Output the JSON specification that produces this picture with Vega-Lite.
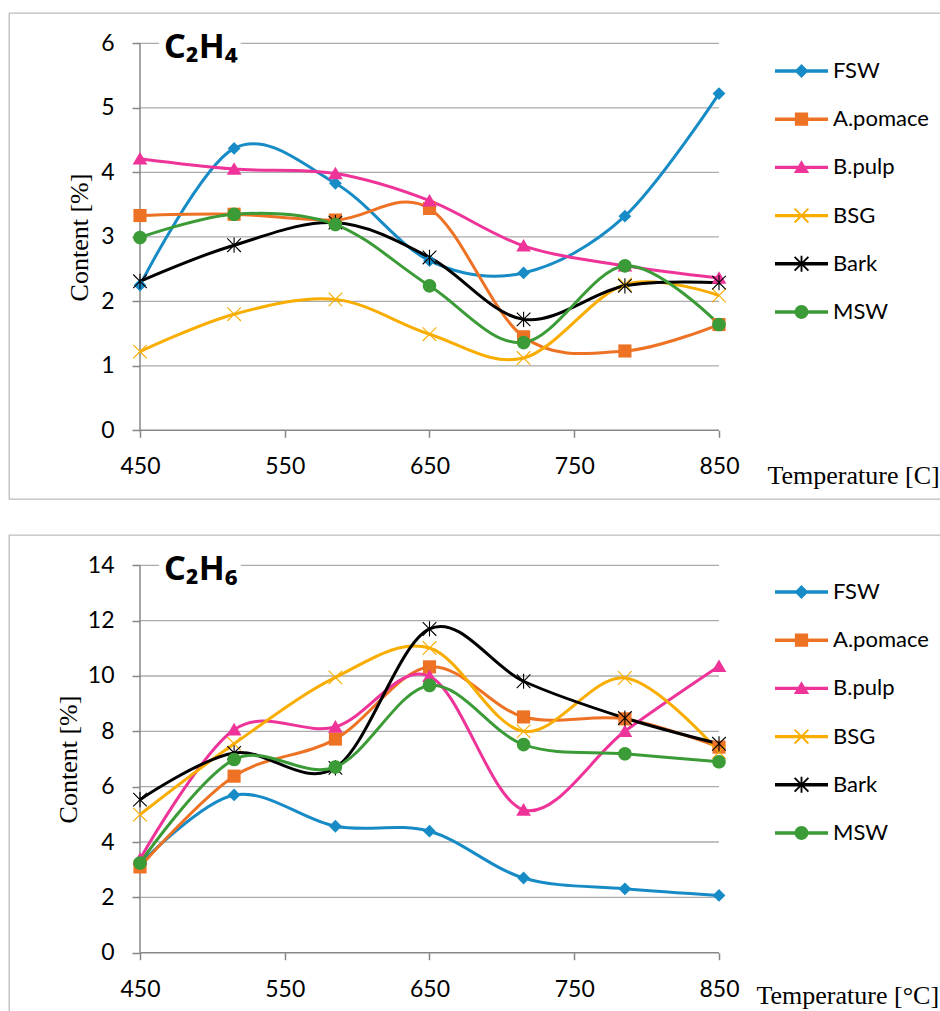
{
  "$schema": "https://vega.github.io/schema/vega-lite/v6.json",
  "padding": {"left": 8, "top": 12, "right": 0, "bottom": 0},
  "spacing": 34,
  "config": {"view": {"stroke": "#BDBDBD", "strokeWidth": 1.3}},
  "datasets": {
    "grid4": [{"g": 1}, {"g": 2}, {"g": 3}, {"g": 4}, {"g": 5}, {"g": 6}],
    "grid6": [{"g": 2}, {"g": 4}, {"g": 6}, {"g": 8}, {"g": 10}, {"g": 12}, {"g": 14}],
    "c2h4": [
      {"temp": 450, "material": "FSW", "content": 2.25}, {"temp": 515, "material": "FSW", "content": 4.37}, {"temp": 585, "material": "FSW", "content": 3.83}, {"temp": 650, "material": "FSW", "content": 2.63}, {"temp": 715, "material": "FSW", "content": 2.44}, {"temp": 785, "material": "FSW", "content": 3.32}, {"temp": 850, "material": "FSW", "content": 5.22},
      {"temp": 450, "material": "A.pomace", "content": 3.33}, {"temp": 515, "material": "A.pomace", "content": 3.35}, {"temp": 585, "material": "A.pomace", "content": 3.26}, {"temp": 650, "material": "A.pomace", "content": 3.44}, {"temp": 715, "material": "A.pomace", "content": 1.45}, {"temp": 785, "material": "A.pomace", "content": 1.23}, {"temp": 850, "material": "A.pomace", "content": 1.64},
      {"temp": 450, "material": "B.pulp", "content": 4.21}, {"temp": 515, "material": "B.pulp", "content": 4.05}, {"temp": 585, "material": "B.pulp", "content": 3.98}, {"temp": 650, "material": "B.pulp", "content": 3.56}, {"temp": 715, "material": "B.pulp", "content": 2.86}, {"temp": 785, "material": "B.pulp", "content": 2.55}, {"temp": 850, "material": "B.pulp", "content": 2.36},
      {"temp": 450, "material": "BSG", "content": 1.22}, {"temp": 515, "material": "BSG", "content": 1.8}, {"temp": 585, "material": "BSG", "content": 2.03}, {"temp": 650, "material": "BSG", "content": 1.49}, {"temp": 715, "material": "BSG", "content": 1.12}, {"temp": 785, "material": "BSG", "content": 2.26}, {"temp": 850, "material": "BSG", "content": 2.09},
      {"temp": 450, "material": "Bark", "content": 2.31}, {"temp": 515, "material": "Bark", "content": 2.87}, {"temp": 585, "material": "Bark", "content": 3.22}, {"temp": 650, "material": "Bark", "content": 2.68}, {"temp": 715, "material": "Bark", "content": 1.72}, {"temp": 785, "material": "Bark", "content": 2.24}, {"temp": 850, "material": "Bark", "content": 2.29},
      {"temp": 450, "material": "MSW", "content": 2.99}, {"temp": 515, "material": "MSW", "content": 3.35}, {"temp": 585, "material": "MSW", "content": 3.19}, {"temp": 650, "material": "MSW", "content": 2.24}, {"temp": 715, "material": "MSW", "content": 1.36}, {"temp": 785, "material": "MSW", "content": 2.55}, {"temp": 850, "material": "MSW", "content": 1.64}
    ],
    "c2h6": [
      {"temp": 450, "material": "FSW", "content": 3.2}, {"temp": 515, "material": "FSW", "content": 5.7}, {"temp": 585, "material": "FSW", "content": 4.57}, {"temp": 650, "material": "FSW", "content": 4.39}, {"temp": 715, "material": "FSW", "content": 2.7}, {"temp": 785, "material": "FSW", "content": 2.31}, {"temp": 850, "material": "FSW", "content": 2.07},
      {"temp": 450, "material": "A.pomace", "content": 3.1}, {"temp": 515, "material": "A.pomace", "content": 6.38}, {"temp": 585, "material": "A.pomace", "content": 7.72}, {"temp": 650, "material": "A.pomace", "content": 10.33}, {"temp": 715, "material": "A.pomace", "content": 8.52}, {"temp": 785, "material": "A.pomace", "content": 8.45}, {"temp": 850, "material": "A.pomace", "content": 7.43},
      {"temp": 450, "material": "B.pulp", "content": 3.38}, {"temp": 515, "material": "B.pulp", "content": 8.06}, {"temp": 585, "material": "B.pulp", "content": 8.16}, {"temp": 650, "material": "B.pulp", "content": 9.99}, {"temp": 715, "material": "B.pulp", "content": 5.16}, {"temp": 785, "material": "B.pulp", "content": 8.0}, {"temp": 850, "material": "B.pulp", "content": 10.35},
      {"temp": 450, "material": "BSG", "content": 4.99}, {"temp": 515, "material": "BSG", "content": 7.55}, {"temp": 585, "material": "BSG", "content": 9.95}, {"temp": 650, "material": "BSG", "content": 11.01}, {"temp": 715, "material": "BSG", "content": 8.0}, {"temp": 785, "material": "BSG", "content": 9.93}, {"temp": 850, "material": "BSG", "content": 7.25},
      {"temp": 450, "material": "Bark", "content": 5.53}, {"temp": 515, "material": "Bark", "content": 7.22}, {"temp": 585, "material": "Bark", "content": 6.68}, {"temp": 650, "material": "Bark", "content": 11.7}, {"temp": 715, "material": "Bark", "content": 9.81}, {"temp": 785, "material": "Bark", "content": 8.48}, {"temp": 850, "material": "Bark", "content": 7.55},
      {"temp": 450, "material": "MSW", "content": 3.24}, {"temp": 515, "material": "MSW", "content": 6.98}, {"temp": 585, "material": "MSW", "content": 6.71}, {"temp": 650, "material": "MSW", "content": 9.66}, {"temp": 715, "material": "MSW", "content": 7.52}, {"temp": 785, "material": "MSW", "content": 7.19}, {"temp": 850, "material": "MSW", "content": 6.9}
    ],
    "title4": [{"label": "C₂H₄"}],
    "title6": [{"label": "C₂H₆"}],
    "one": [{"k": 1}]
  },
  "vconcat": [
    {
      "width": 940,
      "height": 486,
      "resolve": {"scale": {"color": "independent", "shape": "independent"}, "legend": {"color": "independent", "shape": "independent"}},
      "layer": [
        {
          "data": {"name": "grid4"},
          "mark": {"type": "rule", "color": "#ABABAB", "strokeWidth": 1.3},
          "encoding": {
            "x": {"datum": 450, "type": "quantitative", "scale": {"domain": [359.5, 1008.9], "nice": false, "zero": false},
              "axis": {"title": "Temperature [C]", "values": [450, 550, 650, 750, 850], "format": "d", "grid": false, "domain": false, "ticks": true, "tickSize": 7, "tickColor": "#878787", "tickWidth": 1.5, "labelFont": "Lato", "labelFontSize": 23, "labelColor": "#000000", "labelPadding": 18.5, "labelOverlap": false, "labelFlush": false, "offset": -68.7, "titleFont": "Liberation Serif", "titleFontSize": 26, "titleFontWeight": "normal", "titleColor": "#000000", "titleX": 758, "titleY": 53, "titleAlign": "left", "titleBaseline": "alphabetic", "titleAngle": 0}},
            "x2": {"datum": 850},
            "y": {"field": "g", "type": "quantitative", "scale": {"domain": [-1.065, 6.47], "nice": false, "zero": false},
              "axis": {"title": "Content [%]", "values": [0, 1, 2, 3, 4, 5, 6], "format": "d", "grid": false, "domain": false, "ticks": true, "tickSize": 8, "tickColor": "#878787", "tickWidth": 1.5, "labelFont": "Lato", "labelFontSize": 23, "labelColor": "#000000", "labelPadding": 18, "labelOverlap": false, "labelFlush": false, "offset": -131, "titleFont": "Liberation Serif", "titleFontSize": 26, "titleFontWeight": "normal", "titleColor": "#000000", "titleX": -61, "titleY": 224, "titleAngle": -90, "titleAlign": "center", "titleBaseline": "middle"}}
          }
        },
        {
          "data": {"name": "one"},
          "mark": {"type": "rule", "color": "#878787", "strokeWidth": 1.5},
          "encoding": {
            "x": {"datum": 450, "type": "quantitative"},
            "y": {"datum": 0, "type": "quantitative"},
            "y2": {"datum": 6}
          }
        },
        {
          "data": {"name": "one"},
          "mark": {"type": "rule", "color": "#878787", "strokeWidth": 1.5},
          "encoding": {
            "x": {"datum": 450, "type": "quantitative"},
            "x2": {"datum": 850},
            "y": {"datum": 0, "type": "quantitative"}
          }
        },
        {
          "data": {"name": "title4"},
          "mark": {"type": "text", "align": "left", "baseline": "alphabetic", "font": "Noto Sans", "fontSize": 34, "fontWeight": "bold", "fill": "#FFFFFF", "stroke": "#FFFFFF", "strokeWidth": 14, "strokeJoin": "round"},
          "encoding": {
            "x": {"datum": 466.6, "type": "quantitative"},
            "y": {"datum": 5.78, "type": "quantitative"},
            "text": {"field": "label"}
          }
        },
        {
          "data": {"name": "title4"},
          "mark": {"type": "text", "align": "left", "baseline": "alphabetic", "font": "Noto Sans", "fontSize": 34, "fontWeight": "bold", "fill": "#000000"},
          "encoding": {
            "x": {"datum": 466.6, "type": "quantitative"},
            "y": {"datum": 5.78, "type": "quantitative"},
            "text": {"field": "label"}
          }
        },
        {
          "data": {"name": "c2h4"},
          "mark": {"type": "line", "interpolate": "cardinal", "strokeWidth": 3},
          "encoding": {
            "x": {"field": "temp", "type": "quantitative"},
            "y": {"field": "content", "type": "quantitative"},
            "color": {"field": "material", "type": "nominal", "scale": {"domain": ["FSW", "A.pomace", "B.pulp", "BSG", "Bark", "MSW"], "range": ["#168BC6", "#EE7224", "#EE3399", "#F8AD00", "#000000", "#3B9B36"]}, "legend": null}
          }
        },
        {
          "data": {"name": "c2h4"},
          "mark": {"type": "point", "filled": true, "opacity": 1, "size": 256, "strokeWidth": 0},
          "encoding": {
            "x": {"field": "temp", "type": "quantitative"},
            "y": {"field": "content", "type": "quantitative"},
            "color": {"field": "material", "type": "nominal", "scale": {"domain": ["FSW", "A.pomace", "B.pulp", "BSG", "Bark", "MSW"], "range": ["#168BC6", "#EE7224", "#EE3399", "#F8AD00", "#000000", "#3B9B36"]}, "legend": null},
            "shape": {"field": "material", "type": "nominal", "scale": {"domain": ["FSW", "A.pomace", "B.pulp", "BSG", "Bark", "MSW"], "range": [
              "M0,-0.8L0.8,0L0,0.8L-0.8,0Z",
              "M-0.82,-0.82H0.82V0.82H-0.82Z",
              "M0,-0.85L0.92,0.72L-0.92,0.72Z",
              "M0.9,-0.8L0.099,0L0.9,0.8L0.8,0.9L0,0.099L-0.8,0.9L-0.9,0.8L-0.099,0L-0.9,-0.8L-0.8,-0.9L0,-0.099L0.8,-0.9Z",
              "M0.9,-0.8L0.099,0L0.9,0.8L0.8,0.9L0,0.099L-0.8,0.9L-0.9,0.8L-0.099,0L-0.9,-0.8L-0.8,-0.9L0,-0.099L0.8,-0.9Z M-0.07,-0.95H0.07V0.95H-0.07Z",
              "M0.85,0A0.85,0.85,0,1,1,-0.85,0A0.85,0.85,0,1,1,0.85,0Z"]}, "legend": null}
          }
        },
        {
          "data": {"name": "c2h4"},
          "mark": {"type": "point", "filled": true, "opacity": 0, "size": 10},
          "encoding": {
            "x": {"field": "temp", "type": "quantitative"},
            "y": {"field": "content", "type": "quantitative"},
            "color": {"field": "material", "type": "nominal", "scale": {"domain": ["FSW", "A.pomace", "B.pulp", "BSG", "Bark", "MSW"], "range": ["#168BC6", "#EE7224", "#EE3399", "#F8AD00", "#000000", "#3B9B36"]},
              "legend": {"orient": "none", "legendX": 766, "legendY": 31.5, "title": null, "padding": 0, "rowPadding": 10.2, "labelOffset": 5, "labelFont": "Lato", "labelFontSize": 22, "labelColor": "#000000", "symbolSize": 2809, "symbolStrokeWidth": 0, "symbolOpacity": 1, "labelLimit": 300}},
            "shape": {"field": "material", "type": "nominal", "scale": {"domain": ["FSW", "A.pomace", "B.pulp", "BSG", "Bark", "MSW"], "range": [
              "M-1,-0.065H1V0.065H-1Z M0,-0.26L0.26,0L0,0.26L-0.26,0Z",
              "M-1,-0.065H1V0.065H-1Z M-0.25,-0.25H0.25V0.25H-0.25Z",
              "M-1,-0.065H1V0.065H-1Z M0,-0.27L0.29,0.21L-0.29,0.21Z",
              "M-1,-0.065H1V0.065H-1Z M0.2848,-0.2353L0.0495,0L0.2848,0.2353L0.2353,0.2848L0,0.0495L-0.2353,0.2848L-0.2848,0.2353L-0.0495,0L-0.2848,-0.2353L-0.2353,-0.2848L0,-0.0495L0.2353,-0.2848Z",
              "M-1,-0.065H1V0.065H-1Z M0.2848,-0.2353L0.0495,0L0.2848,0.2353L0.2353,0.2848L0,0.0495L-0.2353,0.2848L-0.2848,0.2353L-0.0495,0L-0.2848,-0.2353L-0.2353,-0.2848L0,-0.0495L0.2353,-0.2848Z M-0.035,-0.3H0.035V0.3H-0.035Z",
              "M-1,-0.065H1V0.065H-1Z M0.26,0A0.26,0.26,0,1,1,-0.26,0A0.26,0.26,0,1,1,0.26,0Z"]},
              "legend": {"orient": "none", "legendX": 766, "legendY": 31.5, "title": null, "padding": 0, "rowPadding": 10.2, "labelOffset": 5, "labelFont": "Lato", "labelFontSize": 22, "labelColor": "#000000", "symbolSize": 2809, "symbolStrokeWidth": 0, "symbolOpacity": 1, "labelLimit": 300}}
          }
        }
      ]
    },
    {
      "width": 940,
      "height": 490,
      "resolve": {"scale": {"color": "independent", "shape": "independent"}, "legend": {"color": "independent", "shape": "independent"}},
      "layer": [
        {
          "data": {"name": "grid6"},
          "mark": {"type": "rule", "color": "#ABABAB", "strokeWidth": 1.3},
          "encoding": {
            "x": {"datum": 450, "type": "quantitative", "scale": {"domain": [359.5, 1008.9], "nice": false, "zero": false},
              "axis": {"title": "Temperature [°C]", "values": [450, 550, 650, 750, 850], "format": "d", "grid": false, "domain": false, "ticks": true, "tickSize": 7, "tickColor": "#878787", "tickWidth": 1.5, "labelFont": "Lato", "labelFontSize": 23, "labelColor": "#000000", "labelPadding": 18.5, "labelOverlap": false, "labelFlush": false, "offset": -72.3, "titleFont": "Liberation Serif", "titleFontSize": 26, "titleFontWeight": "normal", "titleColor": "#000000", "titleX": 747, "titleY": 51, "titleAlign": "left", "titleBaseline": "alphabetic", "titleAngle": 0}},
            "x2": {"datum": 850},
            "y": {"field": "g", "type": "quantitative", "scale": {"domain": [-2.613, 15.095], "nice": false, "zero": false},
              "axis": {"title": "Content [%]", "values": [0, 2, 4, 6, 8, 10, 12, 14], "format": "d", "grid": false, "domain": false, "ticks": true, "tickSize": 8, "tickColor": "#878787", "tickWidth": 1.5, "labelFont": "Lato", "labelFontSize": 23, "labelColor": "#000000", "labelPadding": 18, "labelOverlap": false, "labelFlush": false, "offset": -131, "titleFont": "Liberation Serif", "titleFontSize": 26, "titleFontWeight": "normal", "titleColor": "#000000", "titleX": -72, "titleY": 224, "titleAngle": -90, "titleAlign": "center", "titleBaseline": "middle"}}
          }
        },
        {
          "data": {"name": "one"},
          "mark": {"type": "rule", "color": "#878787", "strokeWidth": 1.5},
          "encoding": {
            "x": {"datum": 450, "type": "quantitative"},
            "y": {"datum": 0, "type": "quantitative"},
            "y2": {"datum": 14}
          }
        },
        {
          "data": {"name": "one"},
          "mark": {"type": "rule", "color": "#878787", "strokeWidth": 1.5},
          "encoding": {
            "x": {"datum": 450, "type": "quantitative"},
            "x2": {"datum": 850},
            "y": {"datum": 0, "type": "quantitative"}
          }
        },
        {
          "data": {"name": "title6"},
          "mark": {"type": "text", "align": "left", "baseline": "alphabetic", "font": "Noto Sans", "fontSize": 34, "fontWeight": "bold", "fill": "#FFFFFF", "stroke": "#FFFFFF", "strokeWidth": 14, "strokeJoin": "round"},
          "encoding": {
            "x": {"datum": 466.6, "type": "quantitative"},
            "y": {"datum": 13.48, "type": "quantitative"},
            "text": {"field": "label"}
          }
        },
        {
          "data": {"name": "title6"},
          "mark": {"type": "text", "align": "left", "baseline": "alphabetic", "font": "Noto Sans", "fontSize": 34, "fontWeight": "bold", "fill": "#000000"},
          "encoding": {
            "x": {"datum": 466.6, "type": "quantitative"},
            "y": {"datum": 13.48, "type": "quantitative"},
            "text": {"field": "label"}
          }
        },
        {
          "data": {"name": "c2h6"},
          "mark": {"type": "line", "interpolate": "cardinal", "strokeWidth": 3},
          "encoding": {
            "x": {"field": "temp", "type": "quantitative"},
            "y": {"field": "content", "type": "quantitative"},
            "color": {"field": "material", "type": "nominal", "scale": {"domain": ["FSW", "A.pomace", "B.pulp", "BSG", "Bark", "MSW"], "range": ["#168BC6", "#EE7224", "#EE3399", "#F8AD00", "#000000", "#3B9B36"]}, "legend": null}
          }
        },
        {
          "data": {"name": "c2h6"},
          "mark": {"type": "point", "filled": true, "opacity": 1, "size": 256, "strokeWidth": 0},
          "encoding": {
            "x": {"field": "temp", "type": "quantitative"},
            "y": {"field": "content", "type": "quantitative"},
            "color": {"field": "material", "type": "nominal", "scale": {"domain": ["FSW", "A.pomace", "B.pulp", "BSG", "Bark", "MSW"], "range": ["#168BC6", "#EE7224", "#EE3399", "#F8AD00", "#000000", "#3B9B36"]}, "legend": null},
            "shape": {"field": "material", "type": "nominal", "scale": {"domain": ["FSW", "A.pomace", "B.pulp", "BSG", "Bark", "MSW"], "range": [
              "M0,-0.8L0.8,0L0,0.8L-0.8,0Z",
              "M-0.82,-0.82H0.82V0.82H-0.82Z",
              "M0,-0.85L0.92,0.72L-0.92,0.72Z",
              "M0.9,-0.8L0.099,0L0.9,0.8L0.8,0.9L0,0.099L-0.8,0.9L-0.9,0.8L-0.099,0L-0.9,-0.8L-0.8,-0.9L0,-0.099L0.8,-0.9Z",
              "M0.9,-0.8L0.099,0L0.9,0.8L0.8,0.9L0,0.099L-0.8,0.9L-0.9,0.8L-0.099,0L-0.9,-0.8L-0.8,-0.9L0,-0.099L0.8,-0.9Z M-0.07,-0.95H0.07V0.95H-0.07Z",
              "M0.85,0A0.85,0.85,0,1,1,-0.85,0A0.85,0.85,0,1,1,0.85,0Z"]}, "legend": null}
          }
        },
        {
          "data": {"name": "c2h6"},
          "mark": {"type": "point", "filled": true, "opacity": 0, "size": 10},
          "encoding": {
            "x": {"field": "temp", "type": "quantitative"},
            "y": {"field": "content", "type": "quantitative"},
            "color": {"field": "material", "type": "nominal", "scale": {"domain": ["FSW", "A.pomace", "B.pulp", "BSG", "Bark", "MSW"], "range": ["#168BC6", "#EE7224", "#EE3399", "#F8AD00", "#000000", "#3B9B36"]},
              "legend": {"orient": "none", "legendX": 766, "legendY": 30.5, "title": null, "padding": 0, "rowPadding": 10.2, "labelOffset": 5, "labelFont": "Lato", "labelFontSize": 22, "labelColor": "#000000", "symbolSize": 2809, "symbolStrokeWidth": 0, "symbolOpacity": 1, "labelLimit": 300}},
            "shape": {"field": "material", "type": "nominal", "scale": {"domain": ["FSW", "A.pomace", "B.pulp", "BSG", "Bark", "MSW"], "range": [
              "M-1,-0.065H1V0.065H-1Z M0,-0.26L0.26,0L0,0.26L-0.26,0Z",
              "M-1,-0.065H1V0.065H-1Z M-0.25,-0.25H0.25V0.25H-0.25Z",
              "M-1,-0.065H1V0.065H-1Z M0,-0.27L0.29,0.21L-0.29,0.21Z",
              "M-1,-0.065H1V0.065H-1Z M0.2848,-0.2353L0.0495,0L0.2848,0.2353L0.2353,0.2848L0,0.0495L-0.2353,0.2848L-0.2848,0.2353L-0.0495,0L-0.2848,-0.2353L-0.2353,-0.2848L0,-0.0495L0.2353,-0.2848Z",
              "M-1,-0.065H1V0.065H-1Z M0.2848,-0.2353L0.0495,0L0.2848,0.2353L0.2353,0.2848L0,0.0495L-0.2353,0.2848L-0.2848,0.2353L-0.0495,0L-0.2848,-0.2353L-0.2353,-0.2848L0,-0.0495L0.2353,-0.2848Z M-0.035,-0.3H0.035V0.3H-0.035Z",
              "M-1,-0.065H1V0.065H-1Z M0.26,0A0.26,0.26,0,1,1,-0.26,0A0.26,0.26,0,1,1,0.26,0Z"]},
              "legend": {"orient": "none", "legendX": 766, "legendY": 30.5, "title": null, "padding": 0, "rowPadding": 10.2, "labelOffset": 5, "labelFont": "Lato", "labelFontSize": 22, "labelColor": "#000000", "symbolSize": 2809, "symbolStrokeWidth": 0, "symbolOpacity": 1, "labelLimit": 300}}
          }
        }
      ]
    }
  ]
}
